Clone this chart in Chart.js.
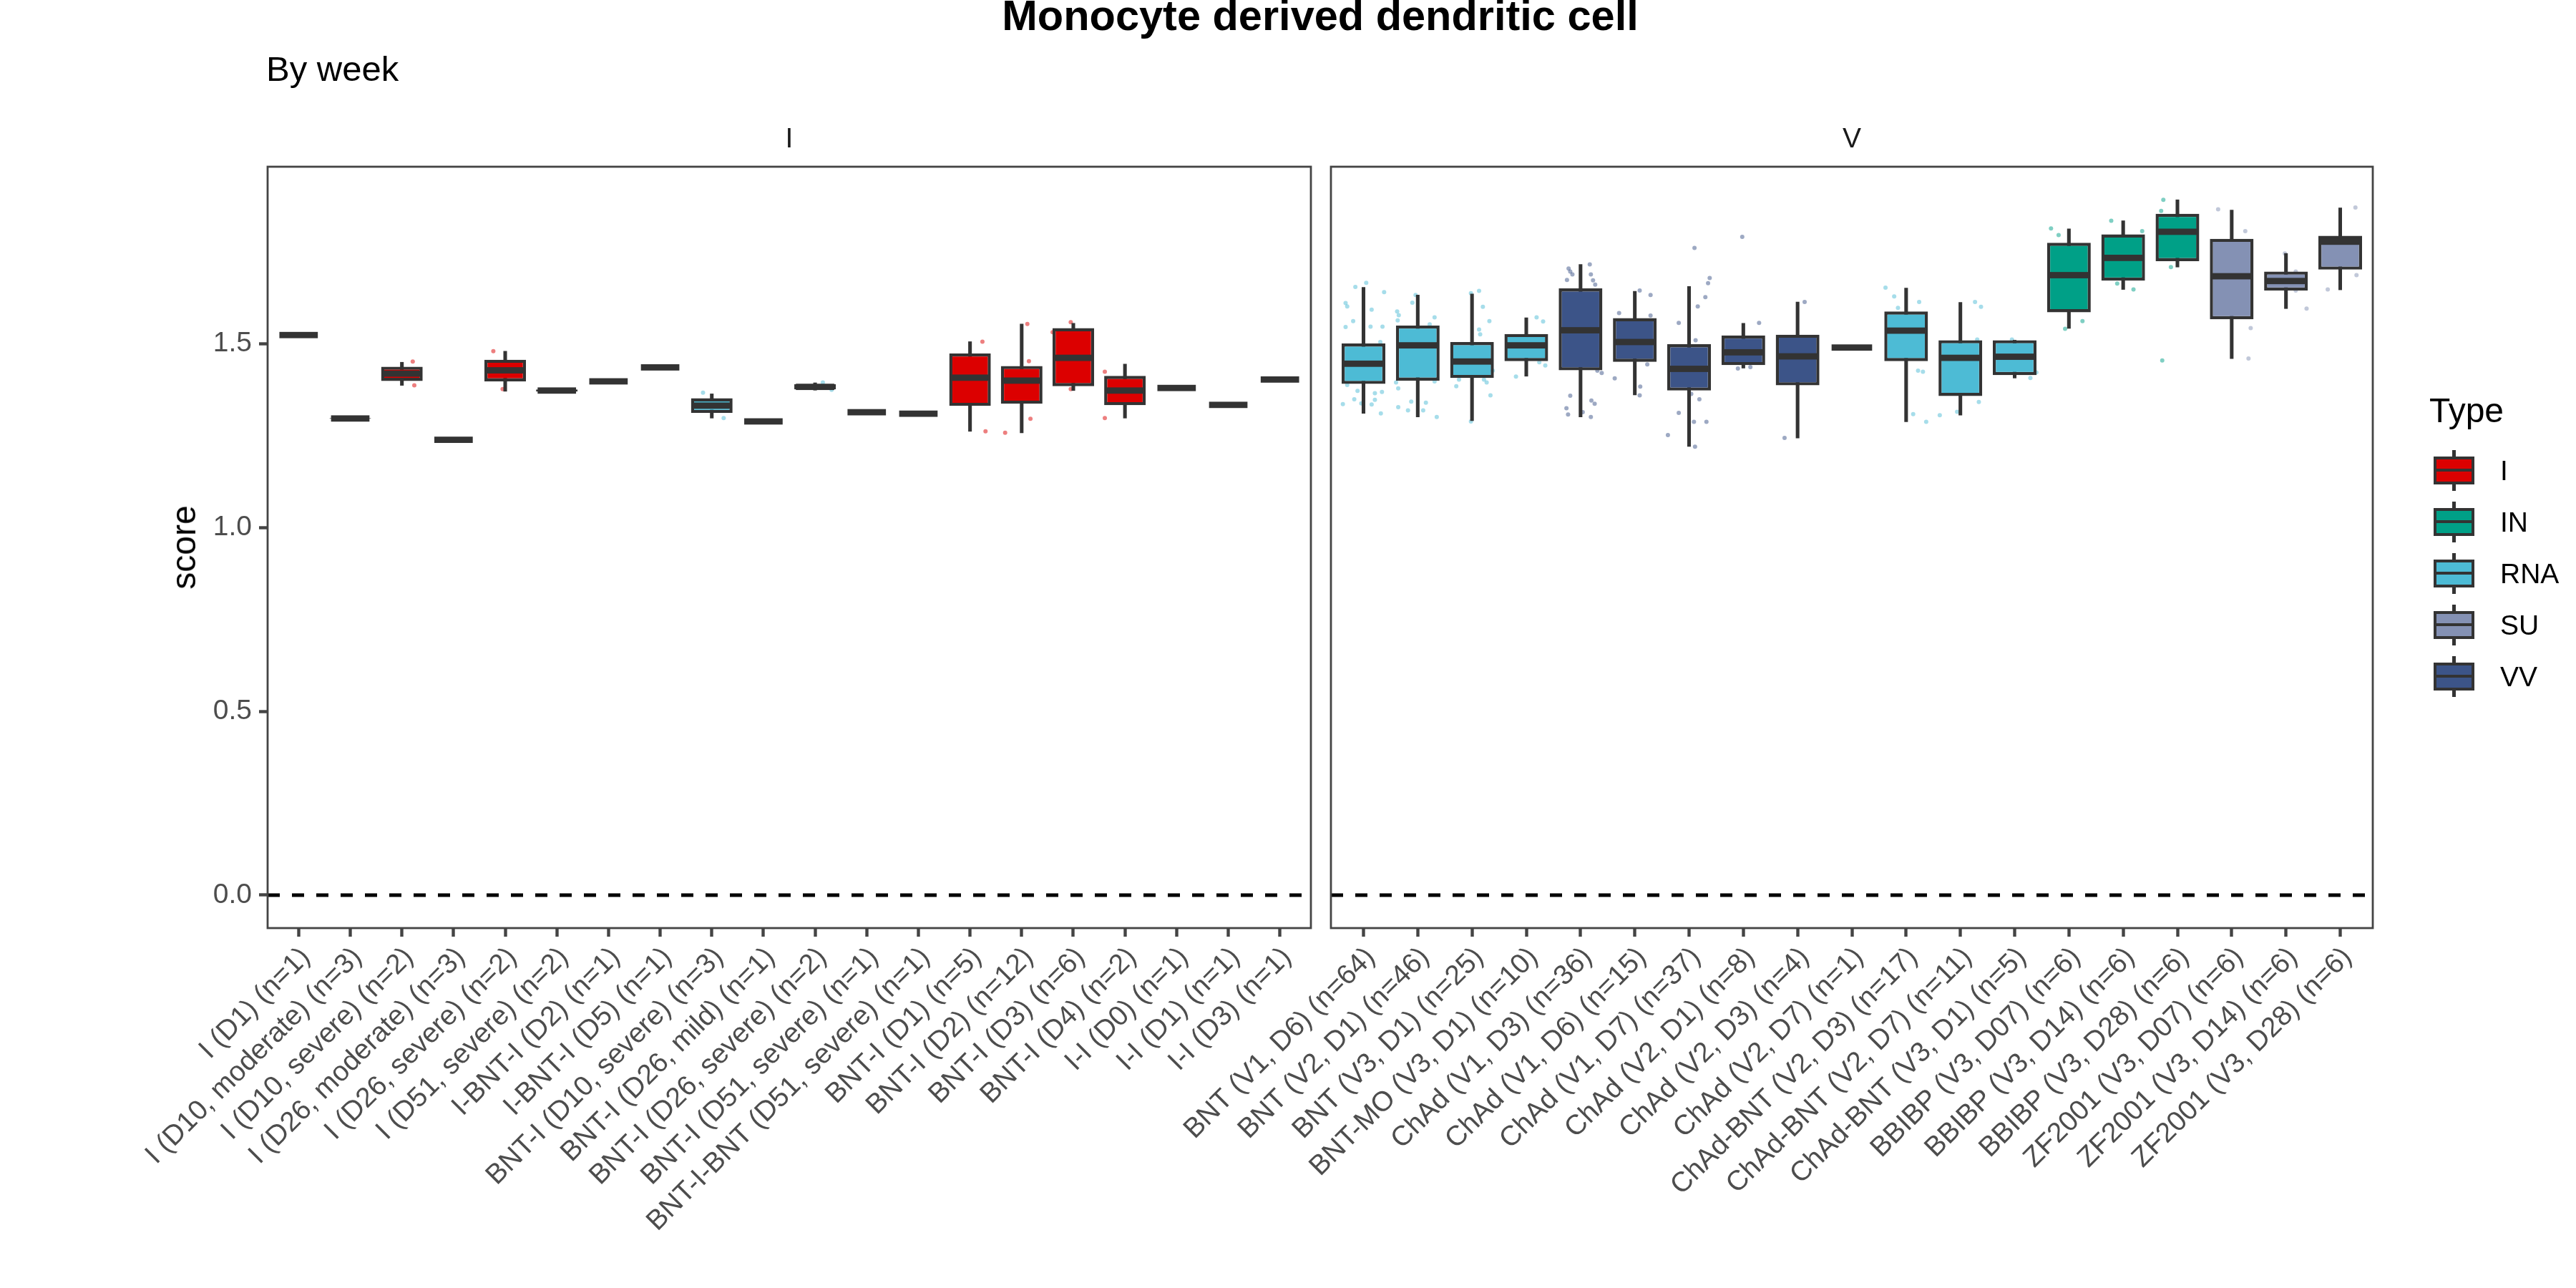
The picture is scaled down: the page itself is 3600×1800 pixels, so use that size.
<!DOCTYPE html>
<html>
<head>
<meta charset="utf-8">
<title>Monocyte derived dendritic cell</title>
<script src="https://cdn.jsdelivr.net/npm/chart.js@4.4.1/dist/chart.umd.min.js"></script>
<style>
  html, body { margin: 0; padding: 0; background: #fff; }
  #figure {
    position: relative; width: 3600px; height: 1800px; overflow: hidden; background: #fff;
    font-family: 'Liberation Sans', Arial, Helvetica, sans-serif; color: #000;
  }
  #figure canvas { position: absolute; left: 0; top: 0; }
  .label { position: absolute; white-space: nowrap; line-height: 1; }
  #title { left: 1845px; top: -8px; font-size: 59.5px; font-weight: bold; transform: translateX(-50%); }
  #subtitle { left: 372px; top: 72px; font-size: 49px; }
  .strip { top: 173px; font-size: 39px; color: #1A1A1A; transform: translateX(-50%); }
  #ytitle { left: 257px; top: 765px; font-size: 48px; transform: translate(-50%, -50%) rotate(-90deg); }
  #legend-title { left: 3395px; top: 550px; font-size: 48px; }
  .key-whisker { position: absolute; width: 4.4px; height: 57px; background: #333; }
  .key-box { position: absolute; width: 57px; height: 39px; box-sizing: border-box; border: 4.4px solid #333; }
  .key-median { position: absolute; width: 57px; height: 4.4px; background: #333; }
  .key-label { font-size: 39px; }
</style>
</head>
<body>
<div id="figure">
  <canvas id="panel-i" width="3600" height="1800"></canvas>
  <canvas id="panel-v" width="3600" height="1800"></canvas>
  <div class="label" id="title">Monocyte derived dendritic cell</div>
  <div class="label" id="subtitle">By week</div>
  <div class="label strip" style="left:1103px">I</div>
  <div class="label strip" style="left:2588px">V</div>
  <div class="label" id="ytitle">score</div>
  <div id="legend"><div class="label" id="legend-title">Type</div></div>
</div>
<script>
;(() => {
  'use strict';

  // ---- data ----
  const typeNames = ['I', 'IN', 'RNA', 'SU', 'VV'];
  const typeColors = ['#DC0000', '#00A087', '#4DBBD5', '#8491B4', '#3C5488'];

  const yTicks = [0, 0.5, 1.0, 1.5];

  const labelsI = [
    'I (D1) (n=1)', 'I (D10, moderate) (n=3)', 'I (D10, severe) (n=2)', 'I (D26, moderate) (n=3)',
    'I (D26, severe) (n=2)', 'I (D51, severe) (n=2)', 'I-BNT-I (D2) (n=1)', 'I-BNT-I (D5) (n=1)',
    'BNT-I (D10, severe) (n=3)', 'BNT-I (D26, mild) (n=1)', 'BNT-I (D26, severe) (n=2)',
    'BNT-I (D51, severe) (n=1)', 'BNT-I-BNT (D51, severe) (n=1)', 'BNT-I (D1) (n=5)',
    'BNT-I (D2) (n=12)', 'BNT-I (D3) (n=6)', 'BNT-I (D4) (n=2)', 'I-I (D0) (n=1)',
    'I-I (D1) (n=1)', 'I-I (D3) (n=1)'
  ];
  const typesI = ['I', 'I', 'I', 'I', 'I', 'I', 'I', 'I', 'RNA', 'RNA',
                  'RNA', 'RNA', 'RNA', 'I', 'I', 'I', 'I', 'I', 'I', 'I'];
  const lowI  = [1.524, 1.295, 1.387, 1.239, 1.371, 1.369, 1.398, 1.436, 1.298, 1.289,
                 1.374, 1.314, 1.310, 1.262, 1.258, 1.373, 1.298, 1.380, 1.334, 1.403];
  const q1I   = [1.524, 1.296, 1.399, 1.239, 1.398, 1.370, 1.398, 1.436, 1.312, 1.289,
                 1.376, 1.314, 1.310, 1.331, 1.337, 1.385, 1.333, 1.380, 1.334, 1.403];
  const medI  = [1.524, 1.297, 1.419, 1.239, 1.428, 1.373, 1.398, 1.436, 1.332, 1.289,
                 1.383, 1.314, 1.310, 1.408, 1.400, 1.462, 1.373, 1.380, 1.334, 1.403];
  const q3I   = [1.524, 1.298, 1.438, 1.239, 1.457, 1.376, 1.398, 1.436, 1.352, 1.289,
                 1.390, 1.314, 1.310, 1.474, 1.440, 1.543, 1.413, 1.380, 1.334, 1.403];
  const highI = [1.524, 1.299, 1.450, 1.239, 1.480, 1.377, 1.398, 1.436, 1.364, 1.289,
                 1.394, 1.314, 1.310, 1.506, 1.554, 1.556, 1.445, 1.380, 1.334, 1.403];
  // [group, score, jitter]
  const pointsI = [
    [2, 1.452, 0.21], [2, 1.387, 0.24], [4, 1.480, -0.23], [4, 1.377, -0.05],
    [8, 1.367, -0.17], [8, 1.298, 0.23], [10, 1.395, 0.15], [10, 1.375, 0.32],
    [13, 1.506, 0.24], [13, 1.262, 0.30], [14, 1.554, 0.11], [14, 1.453, 0.14],
    [14, 1.296, 0.17], [14, 1.258, -0.32], [15, 1.559, -0.05], [15, 1.532, -0.40],
    [15, 1.377, -0.05], [16, 1.424, -0.39], [16, 1.298, -0.39]
  ];

  const labelsV = [
    'BNT (V1, D6) (n=64)', 'BNT (V2, D1) (n=46)', 'BNT (V3, D1) (n=25)', 'BNT-MO (V3, D1) (n=10)',
    'ChAd (V1, D3) (n=36)', 'ChAd (V1, D6) (n=15)', 'ChAd (V1, D7) (n=37)', 'ChAd (V2, D1) (n=8)',
    'ChAd (V2, D3) (n=4)', 'ChAd (V2, D7) (n=1)', 'ChAd-BNT (V2, D3) (n=17)', 'ChAd-BNT (V2, D7) (n=11)',
    'ChAd-BNT (V3, D1) (n=5)', 'BBIBP (V3, D07) (n=6)', 'BBIBP (V3, D14) (n=6)', 'BBIBP (V3, D28) (n=6)',
    'ZF2001 (V3, D07) (n=6)', 'ZF2001 (V3, D14) (n=6)', 'ZF2001 (V3, D28) (n=6)'
  ];
  const typesV = ['RNA', 'RNA', 'RNA', 'RNA', 'VV', 'VV', 'VV', 'VV', 'VV', 'VV',
                  'RNA', 'RNA', 'RNA', 'IN', 'IN', 'IN', 'SU', 'SU', 'SU'];
  const lowV  = [1.311, 1.301, 1.291, 1.412, 1.301, 1.361, 1.221, 1.434, 1.244, 1.490,
                 1.288, 1.306, 1.407, 1.542, 1.648, 1.709, 1.460, 1.596, 1.647];
  const q1V   = [1.391, 1.400, 1.407, 1.453, 1.428, 1.451, 1.373, 1.442, 1.387, 1.490,
                 1.453, 1.358, 1.415, 1.586, 1.672, 1.725, 1.567, 1.645, 1.702];
  const medV  = [1.446, 1.496, 1.452, 1.496, 1.537, 1.505, 1.432, 1.477, 1.466, 1.490,
                 1.536, 1.462, 1.465, 1.687, 1.734, 1.805, 1.684, 1.671, 1.778];
  const q3V   = [1.501, 1.550, 1.505, 1.527, 1.651, 1.570, 1.499, 1.523, 1.525, 1.490,
                 1.588, 1.510, 1.510, 1.775, 1.798, 1.854, 1.786, 1.697, 1.794];
  const highV = [1.654, 1.633, 1.636, 1.571, 1.716, 1.643, 1.656, 1.556, 1.614, 1.490,
                 1.652, 1.613, 1.510, 1.813, 1.835, 1.892, 1.864, 1.746, 1.870];
  const pointsV = [
    [0, 1.655, -0.15], [0, 1.666, 0.05], [0, 1.641, 0.38], [0, 1.611, -0.33], [0, 1.602, -0.30],
    [0, 1.593, 0.15], [0, 1.562, -0.19], [0, 1.546, -0.33], [0, 1.547, 0.13], [0, 1.547, 0.35],
    [0, 1.505, 0.31], [0, 1.388, -0.30], [0, 1.372, -0.11], [0, 1.366, 0.21], [0, 1.369, 0.34],
    [0, 1.349, -0.17], [0, 1.348, 0.21], [0, 1.336, -0.38], [0, 1.335, 0.15], [0, 1.338, -0.04],
    [0, 1.311, 0.32],
    [1, 1.633, -0.04], [1, 1.612, -0.10], [1, 1.588, -0.38], [1, 1.578, -0.35], [1, 1.564, -0.37],
    [1, 1.572, 0.31], [1, 1.553, 0.22], [1, 1.395, -0.40], [1, 1.379, -0.36], [1, 1.398, 0.31],
    [1, 1.343, -0.12], [1, 1.340, 0.15], [1, 1.328, -0.36], [1, 1.319, -0.18], [1, 1.319, 0.10],
    [1, 1.301, 0.35],
    [2, 1.638, -0.02], [2, 1.644, 0.13], [2, 1.601, 0.20], [2, 1.562, 0.32], [2, 1.539, 0.13],
    [2, 1.526, 0.15], [2, 1.403, -0.24], [2, 1.385, -0.29], [2, 1.403, 0.22], [2, 1.395, 0.27],
    [2, 1.360, 0.34], [2, 1.289, -0.02], [2, 1.427, 0.38],
    [3, 1.572, 0.19], [3, 1.561, 0.31], [3, 1.450, 0.24], [3, 1.441, 0.35], [3, 1.411, -0.19],
    [4, 1.705, -0.22], [4, 1.697, -0.19], [4, 1.689, -0.15], [4, 1.674, -0.25], [4, 1.716, 0.17],
    [4, 1.689, 0.19], [4, 1.673, 0.23], [4, 1.661, 0.27], [4, 1.359, -0.19], [4, 1.346, 0.20],
    [4, 1.337, 0.26], [4, 1.325, -0.26], [4, 1.308, -0.23], [4, 1.314, 0.04], [4, 1.301, 0.19],
    [4, 1.421, 0.39], [4, 1.427, 0.31],
    [5, 1.645, 0.09], [5, 1.633, 0.29], [5, 1.584, -0.29], [5, 1.577, 0.29], [5, 1.444, 0.23],
    [5, 1.406, -0.37], [5, 1.384, 0.10], [5, 1.360, 0.09],
    [6, 1.761, 0.10], [6, 1.679, 0.38], [6, 1.665, 0.35], [6, 1.627, 0.30], [6, 1.602, 0.16],
    [6, 1.557, -0.19], [6, 1.510, 0.12], [6, 1.364, 0.04], [6, 1.349, 0.19], [6, 1.312, -0.19],
    [6, 1.288, 0.09], [6, 1.288, 0.32], [6, 1.252, -0.39], [6, 1.220, 0.11],
    [7, 1.791, -0.02], [7, 1.557, 0.29], [7, 1.433, -0.10], [7, 1.437, 0.13],
    [8, 1.614, 0.13], [8, 1.244, -0.24],
    [10, 1.653, -0.38], [10, 1.629, -0.22], [10, 1.614, 0.24], [10, 1.598, -0.15], [10, 1.427, 0.22],
    [10, 1.424, 0.31], [10, 1.309, 0.13], [10, 1.288, 0.37],
    [11, 1.614, 0.27], [11, 1.601, 0.38], [11, 1.512, 0.31], [11, 1.342, 0.34], [11, 1.315, -0.06],
    [11, 1.306, -0.38],
    [12, 1.512, -0.05], [12, 1.407, 0.29], [12, 1.422, 0.40],
    [13, 1.814, -0.33], [13, 1.796, -0.19], [13, 1.562, 0.25], [13, 1.541, -0.07],
    [14, 1.835, -0.22], [14, 1.807, 0.35], [14, 1.664, -0.11], [14, 1.648, 0.19],
    [15, 1.892, -0.26], [15, 1.862, -0.30], [15, 1.709, -0.12], [15, 1.455, -0.28],
    [16, 1.866, -0.25], [16, 1.807, 0.25], [16, 1.543, 0.35], [16, 1.460, 0.31],
    [17, 1.746, -0.02], [17, 1.697, 0.18], [17, 1.645, 0.18], [17, 1.596, 0.38],
    [18, 1.871, 0.28], [18, 1.687, 0.30], [18, 1.648, -0.23]
  ];

  // ---- drawing ----
  const FONT = "'Liberation Sans', Arial, Helvetica, sans-serif";
  const INK = '#333333';
  const LINE = 4.4;
  const Y_MIN = -0.0896;
  const Y_MAX = 1.982;

  const colorOf = (type) => typeColors[typeNames.indexOf(type)];

  const withAlpha = (hex, a) => {
    const n = parseInt(hex.slice(1), 16);
    return `rgba(${n >> 16}, ${(n >> 8) & 255}, ${n & 255}, ${a})`;
  };

  // dashed zero line, medians and the panel frame
  function boxExtras(med) {
    return {
      id: 'boxExtras',
      beforeDatasetsDraw(chart) {
        const {ctx, chartArea: a, scales: {y}} = chart;
        const y0 = y.getPixelForValue(0);
        ctx.save();
        ctx.strokeStyle = '#000';
        ctx.lineWidth = 5;
        ctx.setLineDash([17, 17]);
        ctx.beginPath();
        ctx.moveTo(a.left, y0);
        ctx.lineTo(a.right, y0);
        ctx.stroke();
        ctx.restore();
      },
      afterDatasetsDraw(chart) {
        const {ctx, chartArea: a, scales: {y}} = chart;
        const meta = chart.getDatasetMeta(0);
        ctx.save();
        ctx.fillStyle = INK;
        meta.data.forEach((bar, i) => {
          const py = y.getPixelForValue(med[i]);
          ctx.fillRect(bar.x - bar.width / 2 + LINE / 2, py - LINE, bar.width - LINE, LINE * 2);
        });
        ctx.strokeStyle = '#444444';
        ctx.lineWidth = 2.8;
        ctx.strokeRect(a.left, a.top, a.right - a.left, a.bottom - a.top);
        ctx.restore();
      }
    };
  }

  function createPanel(id, labels, types, low, q1, med, q3, high, points, frame) {
    const ctx = document.getElementById(id).getContext('2d');

    return new Chart(ctx, {
      type: 'bar',
      data: {
        datasets: [{
          type: 'bar',
          order: 1,
          grouped: false,
          data: labels.map((_, i) => ({x: i, y: [q1[i], q3[i]]})),
          backgroundColor: types.map(colorOf),
          borderColor: INK,
          borderWidth: LINE,
          borderSkipped: false,
          barPercentage: 0.805,
          categoryPercentage: 1
        }, {
          type: 'bar',
          order: 2,
          grouped: false,
          data: labels.map((_, i) => ({x: i, y: [low[i], high[i]]})),
          backgroundColor: INK,
          borderWidth: 0,
          barThickness: LINE
        }, {
          type: 'scatter',
          order: 3,
          data: points.map(p => ({x: p[0] + p[2], y: p[1]})),
          backgroundColor: points.map(p => withAlpha(colorOf(types[p[0]]), 0.5)),
          borderWidth: 0,
          pointRadius: 3
        }]
      },
      options: {
        responsive: false,
        animation: false,
        devicePixelRatio: 1,
        layout: {
          padding: {top: 233, bottom: 0, left: frame.showY ? 0 : frame.left, right: 3600 - frame.right}
        },
        plugins: {legend: {display: false}, tooltip: {enabled: false}},
        scales: {
          x: {
            type: 'linear',
            min: -0.6,
            max: labels.length - 0.4,
            offset: false,
            afterBuildTicks: s => { s.ticks = labels.map((_, i) => ({value: i})); },
            afterFit: s => { s.height = 503; },
            grid: {
              display: true, offset: false, drawOnChartArea: false, drawTicks: true,
              tickLength: 12, tickWidth: LINE, tickColor: '#444444'
            },
            border: {display: false},
            ticks: {
              autoSkip: false, minRotation: 45, maxRotation: 45, padding: 6, labelOffset: 10,
              color: '#4D4D4D', font: {family: FONT, size: 39},
              callback: (v, i) => labels[i]
            }
          },
          y: {
            display: frame.showY,
            min: Y_MIN,
            max: Y_MAX,
            afterBuildTicks: s => { s.ticks = yTicks.map(v => ({value: v})); },
            afterFit: s => { s.width = frame.showY ? frame.left : 0; },
            grid: {drawOnChartArea: false, tickLength: 12, tickWidth: LINE, tickColor: '#444444'},
            border: {display: false},
            ticks: {
              padding: 10, color: '#4D4D4D', font: {family: FONT, size: 39},
              callback: v => v.toFixed(1)
            }
          }
        }
      },
      plugins: [boxExtras(med)]
    });
  }

  function buildLegend() {
    const legend = document.getElementById('legend');
    typeNames.forEach((name, k) => {
      const c = 657 + 72 * k;
      const parts = [
        ['key-whisker', `left:3427.3px;top:${c - 28.5}px`],
        ['key-box', `left:3401px;top:${c - 19.5}px;background:${typeColors[k]}`],
        ['key-median', `left:3401px;top:${c - 2.2}px`]
      ];
      parts.forEach(([cls, style]) => {
        const d = document.createElement('div');
        d.className = cls;
        d.style.cssText = style;
        legend.appendChild(d);
      });
      const t = document.createElement('div');
      t.className = 'label key-label';
      t.style.cssText = `left:3494px;top:${c - 19}px`;
      t.textContent = name;
      legend.appendChild(t);
    });
  }

  window.addEventListener('load', () => {
    createPanel('panel-i', labelsI, typesI, lowI, q1I, medI, q3I, highI, pointsI,
      {left: 374, right: 1832, showY: true});
    createPanel('panel-v', labelsV, typesV, lowV, q1V, medV, q3V, highV, pointsV,
      {left: 1860, right: 3316, showY: false});
    buildLegend();
  });
})();
</script>
</body>
</html>
